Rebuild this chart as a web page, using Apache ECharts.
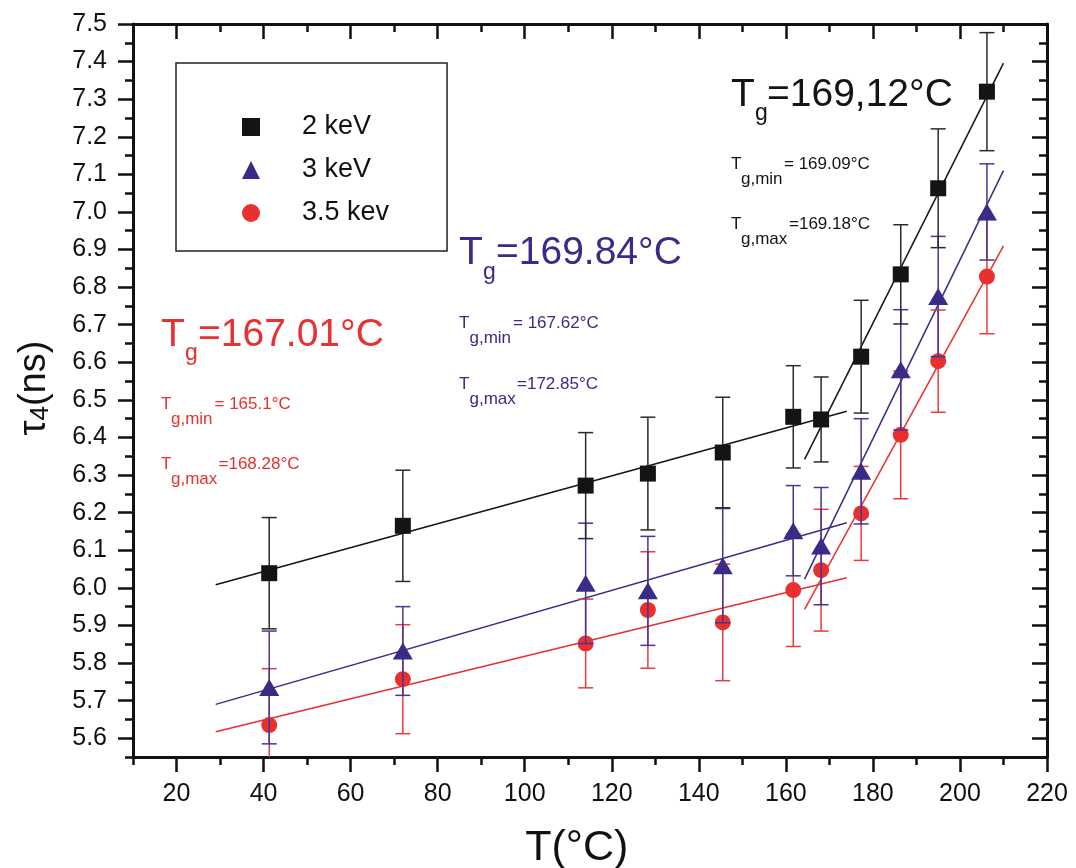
<!DOCTYPE html>
<html>
<head>
<meta charset="utf-8">
<script src="https://cdn.jsdelivr.net/npm/echarts@6/dist/echarts.min.js"></script>
<style>html,body{margin:0;padding:0;background:#fff;}#chart{width:1076px;height:868px;}</style>
</head>
<body>
<div id="chart"></div>
<script>
// ---- data ----
const temps = [41.3, 72.0, 114.0, 128.3, 145.5, 161.7, 168.1, 177.3, 186.4, 195.0, 206.2];
const tau2 = [6.039, 6.165, 6.272, 6.304, 6.360, 6.455, 6.448, 6.615, 6.834, 7.063, 7.320];
const err2 = [0.148, 0.148, 0.141, 0.150, 0.147, 0.136, 0.113, 0.150, 0.132, 0.158, 0.157];
const tau3 = [5.735, 5.832, 6.012, 5.992, 6.059, 6.152, 6.111, 6.310, 6.580, 6.775, 7.000];
const err3 = [0.150, 0.118, 0.160, 0.145, 0.152, 0.120, 0.156, 0.140, 0.160, 0.160, 0.128];
const tau35 = [5.635, 5.757, 5.852, 5.941, 5.908, 5.994, 6.047, 6.198, 6.407, 6.603, 6.828];
const err35 = [0.150, 0.145, 0.118, 0.155, 0.155, 0.150, 0.162, 0.125, 0.170, 0.136, 0.152];

const fitLowX = [29, 174];
const fitHighX = [164.3, 210];
const fit2Low = [6.008, 6.470];
const fit2High = [6.342, 7.396];
const fit3Low = [5.690, 6.173];
const fit3High = [6.023, 7.110];
const fit35Low = [5.617, 6.027];
const fit35High = [5.943, 6.910];

const seriesNames = ['2 keV', '3 keV', '3.5 kev'];
const xTicksMajor = {min: 20, max: 220, interval: 20};
const yTicksMajor = {min: 5.6, max: 7.5, interval: 0.1};
const xRange = {min: 10, max: 220, minor: 10};
const yRange = {min: 5.55, max: 7.5, minor: 0.05};

const tgMain = ['=169,12°C', '=169.84°C', '=167.01°C'];
const tgMin = ['= 169.09°C', '= 167.62°C', '= 165.1°C'];
const tgMax = ['=169.18°C', '=172.85°C', '=168.28°C'];

// ---- styling ----
const FONT = '"Liberation Sans", Arial, sans-serif';
const C_BLACK = '#141414', C_BLUE = '#3a2b86', C_RED = '#e8302f';
const E_BLACK = '#2a2a2a', E_BLUE = '#43379a', E_RED = '#ea3a3a';
const AX = '#111';

const chart = echarts.init(document.getElementById('chart'), null, {renderer: 'canvas'});

function pts(xs, ys) { return xs.map((x, i) => [x, ys[i]]); }
function errData(vals, errs) { return temps.map((t, i) => [t, vals[i] - errs[i], vals[i] + errs[i]]); }

function errSeries(vals, errs, color, z) {
  return {
    type: 'custom', xAxisIndex: 0, yAxisIndex: 0, clip: true, silent: true, z: z,
    data: errData(vals, errs),
    encode: {x: 0, y: [1, 2]},
    renderItem: function (params, api) {
      const x = api.value(0);
      const lo = api.coord([x, api.value(1)]);
      const hi = api.coord([x, api.value(2)]);
      const hw = 7.5;
      const st = {stroke: color, lineWidth: 1.5};
      return {type: 'group', children: [
        {type: 'line', shape: {x1: lo[0], y1: lo[1], x2: hi[0], y2: hi[1]}, style: st},
        {type: 'line', shape: {x1: lo[0] - hw, y1: lo[1], x2: lo[0] + hw, y2: lo[1]}, style: st},
        {type: 'line', shape: {x1: hi[0] - hw, y1: hi[1], x2: hi[0] + hw, y2: hi[1]}, style: st}
      ]};
    }
  };
}
function fitSeries(xs, ys, color) {
  return {type: 'line', xAxisIndex: 0, yAxisIndex: 0, data: pts(xs, ys), showSymbol: false, symbol: 'none',
    silent: true, z: 1, lineStyle: {color: color, width: 1.5}};
}
function scatterSeries(name, vals, color, symbol, size, z) {
  return {type: 'scatter', name: name, xAxisIndex: 0, yAxisIndex: 0, data: pts(temps, vals),
    symbol: symbol, symbolSize: size, itemStyle: {color: color, opacity: 1}, z: z, silent: true};
}

function minorAxis(gridIndex, position, inside, range) {
  return {
    type: 'value', gridIndex: gridIndex, position: position, min: range.min, max: range.max, interval: range.minor,
    axisLine: {show: true, onZero: false, lineStyle: {color: AX, width: 3}},
    axisTick: {show: true, inside: inside, length: 8, lineStyle: {color: AX, width: 2.5}},
    axisLabel: {show: false}, splitLine: {show: false}
  };
}
function majorAxis(gridIndex, position, inside, range, offset, showLabel, fmt, margin) {
  return {
    type: 'value', gridIndex: gridIndex, position: position, min: range.min, max: range.max, interval: range.interval,
    offset: offset,
    axisLine: {show: false, onZero: false},
    axisTick: {show: true, inside: inside, length: 15, lineStyle: {color: AX, width: 2.5}},
    axisLabel: {show: showLabel, fontSize: 25, fontFamily: FONT, color: '#111', margin: margin, formatter: fmt},
    splitLine: {show: false}
  };
}

const xAxes = [
  minorAxis(0, 'bottom', false, xRange),
  minorAxis(0, 'top', true, xRange),
  Object.assign(majorAxis(1, 'bottom', false, xTicksMajor, 18.8, true, v => String(v), 25), {
    name: 'T(°C)', nameLocation: 'middle', nameGap: 70,
    nameTextStyle: {fontSize: 43, fontFamily: FONT, color: '#111', padding: [0, 70, 0, 0]}
  }),
  majorAxis(1, 'top', true, xTicksMajor, 0, false, null, 8)
];
const yAxes = [
  minorAxis(0, 'left', false, yRange),
  minorAxis(0, 'right', true, yRange),
  Object.assign(majorAxis(1, 'left', false, yTicksMajor, 43.52, true, v => v.toFixed(1), 26), {
    name: '{t|τ}{s|4}{t|(ns)}', nameLocation: 'middle', nameGap: 78,
    nameTextStyle: {color: '#111', fontFamily: FONT, padding: [0, 14, 0, 0],
      rich: {
        t: {fontSize: 38, fontFamily: FONT, color: '#111', lineHeight: 38, verticalAlign: 'top', padding: [0, 0, 8, 0]},
        s: {fontSize: 26, fontFamily: FONT, color: '#111', lineHeight: 26, verticalAlign: 'bottom'}
      }}
  }),
  majorAxis(1, 'right', true, yTicksMajor, 0, false, null, 8)
];

function t(x, y, text, size, color) {
  return {type: 'text', x: x, y: y, z: 50, silent: true,
    style: {text: text, fontSize: size, fontFamily: FONT, fill: color, verticalAlign: 'middle', align: 'left'}};
}
const colors = [C_BLACK, C_BLUE, C_RED];
// label block anchors: [Tx, bigMid, gx, gMid, valX, minMid, subX, minSubMid, minValX, maxMid, maxSubMid, maxValX]
const anchors = [
  [731, 95, 755, 114, 767, 164, 741, 179, 784, 224, 239, 789],
  [459, 253.5, 483, 272.5, 496, 323, 469.5, 338, 513, 384, 399, 517],
  [161, 335.7, 185, 354, 198, 404, 171, 419, 214.5, 464.7, 479, 218.5]
];
const graphics = [];
anchors.forEach((a, i) => {
  const c = colors[i];
  graphics.push(t(a[0], a[1], 'T', 39, c));
  graphics.push(t(a[2], a[3], 'g', 23, c));
  graphics.push(t(a[4], a[1], tgMain[i], 39, c));
  graphics.push(t(a[0], a[5], 'T', 17, c));
  graphics.push(t(a[6], a[7], 'g,min', 17, c));
  graphics.push(t(a[8], a[5], tgMin[i], 17, c));
  graphics.push(t(a[0], a[9], 'T', 17, c));
  graphics.push(t(a[6], a[10], 'g,max', 17, c));
  graphics.push(t(a[11], a[9], tgMax[i], 17, c));
});

const option = {
  backgroundColor: '#ffffff',
  animation: false,
  grid: [
    {left: 133, right: 29, top: 24, bottom: 111, containLabel: false, outerBoundsMode: 'none'},
    {left: 176.52, right: 29, top: 24, bottom: 129.8, containLabel: false, outerBoundsMode: 'none'}
  ],
  xAxis: xAxes,
  yAxis: yAxes,
  legend: {
    orient: 'vertical', left: 176, top: 63,
    padding: [49, 58, 23, 66], itemGap: 13, itemWidth: 18, itemHeight: 18,
    borderColor: '#222', borderWidth: 1.5, backgroundColor: '#fff',
    textStyle: {fontSize: 27, fontFamily: FONT, color: '#111', lineHeight: 30, padding: [0, 0, 0, 37]},
    data: [
      {name: seriesNames[0], icon: 'rect'},
      {name: seriesNames[1], icon: 'triangle'},
      {name: seriesNames[2], icon: 'circle'}
    ],
    selectedMode: false
  },
  graphic: graphics,
  series: [
    fitSeries(fitLowX, fit35Low, C_RED),
    fitSeries(fitHighX, fit35High, C_RED),
    fitSeries(fitLowX, fit3Low, C_BLUE),
    fitSeries(fitHighX, fit3High, C_BLUE),
    fitSeries(fitLowX, fit2Low, C_BLACK),
    fitSeries(fitHighX, fit2High, C_BLACK),
    errSeries(tau35, err35, E_RED, 2),
    scatterSeries(seriesNames[2], tau35, C_RED, 'circle', 16, 3),
    errSeries(tau3, err3, E_BLUE, 4),
    scatterSeries(seriesNames[1], tau3, C_BLUE, 'triangle', [20, 17], 5),
    errSeries(tau2, err2, E_BLACK, 6),
    scatterSeries(seriesNames[0], tau2, C_BLACK, 'rect', 16, 7)
  ]
};
chart.setOption(option);
</script>
</body>
</html>
